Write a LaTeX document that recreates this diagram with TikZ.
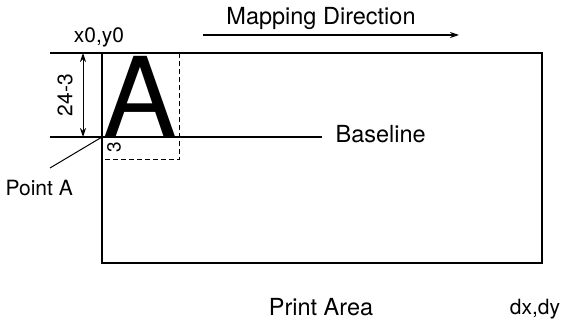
\documentclass[tikz,border=0pt]{standalone}
\usepackage{fontspec}
\setmainfont{TeX Gyre Heros}
\usetikzlibrary{arrows.meta}

\begin{document}
\begin{tikzpicture}[x=1pt,y=-1pt,>={Stealth[length=9pt,width=6pt]},line width=1.3pt,
    lbl/.style={font=\fontsize{21}{24}\selectfont,inner sep=0pt},
    biglbl/.style={font=\fontsize{23.5}{26}\selectfont,inner sep=0pt}]
    \useasboundingbox (0,0) rectangle (564,323);
    % print area
    \coordinate (x0y0) at (102,53);
    \coordinate (dxdy) at (542,263);
    \draw (x0y0) rectangle (dxdy);
    \coordinate (topleft) at (50,53);
    \draw (topleft) -- (x0y0);
    % letter on the baseline
    \coordinate (pointA) at (102,137);
    \coordinate (baseleft) at (50,137);
    \coordinate (baseright) at (322,137);
    \node[anchor=base west,inner sep=0pt,font=\fontsize{110}{110}\selectfont]
      (letter) at (103,137) {A};
    \node[biglbl,anchor=base west] (baseline) at (335,143) {Baseline};
    \draw (baseleft) -- (baseright);
    % cell of the letter
    \coordinate (cellbr) at (179,160);
    \draw[dash pattern=on 5pt off 3pt,line width=1pt] (x0y0 -| cellbr) -- (cellbr) -- (cellbr -| x0y0);
    \node[lbl,rotate=90,font=\fontsize{19}{20}\selectfont] (desc) at (114,147) {3};
    % height of the letter
    \coordinate (dimtop) at (83,53);
    \coordinate (dimbot) at (83,137);
    \draw[<->,line width=1pt] (dimtop) -- (dimbot);
    \node[lbl,rotate=90] (height) at (65,95) {24-3};
    % labels
    \node[lbl] (origin) at (99,37) {x0,y0};
    \node[lbl,anchor=base west] (pointlbl) at (5,195) {Point A};
    \coordinate (pointend) at (50,168);
    \draw[line width=1pt] (pointA) -- (pointend);
    \node[biglbl] (mapping) at (321,18) {Mapping Direction};
    \coordinate (mapstart) at (203,35);
    \coordinate (mapend) at (459,35);
    \draw[->] (mapstart) -- (mapend);
    \node[biglbl,anchor=base] (printarea) at (321,315) {Print Area};
    \node[lbl,anchor=base] (corner) at (535,314) {dx,dy};
\end{tikzpicture}
\end{document}
